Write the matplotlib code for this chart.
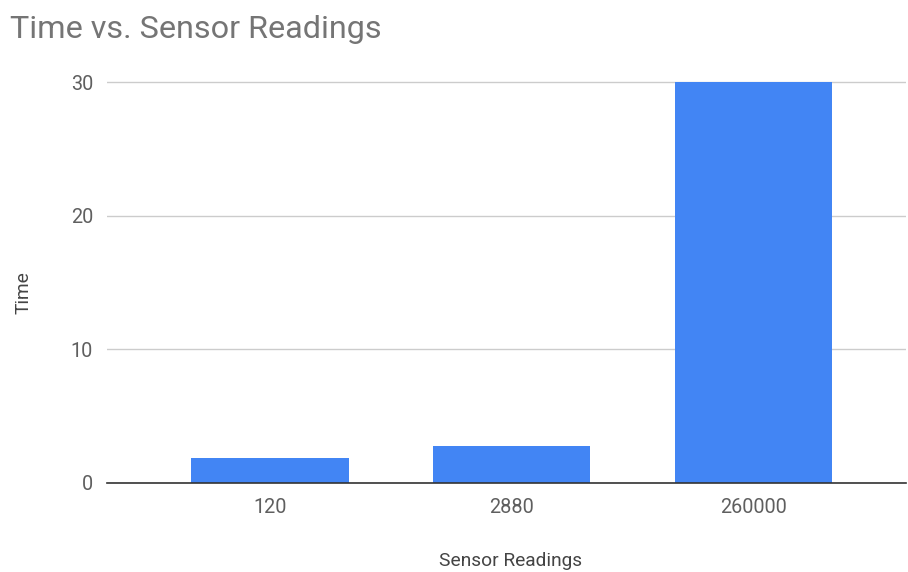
import matplotlib
matplotlib.use("Agg")
import matplotlib.pyplot as plt

categories = ["120", "2880", "260000"]
times = [1.9, 2.8, 30.0]
y_ticks = [0, 10, 20, 30]

BAR_COLOR = "#4285f4"

plt.rcParams["font.family"] = ["Roboto", "DejaVu Sans"]

fig = plt.figure(figsize=(9.08, 5.72), dpi=100)
W, H = 908, 572
left, right, bottom, top = 107, 906, 483, 78
ax = fig.add_axes([left / W, (H - bottom) / H, (right - left) / W, (bottom - top) / H])

x = list(range(len(categories)))
ax.bar(x, times, width=0.65, color=BAR_COLOR, zorder=3)

# pixel mapping: center of first bar at 270, spacing ~241.75 px
step = 241.75
ax.set_xlim(-(270 - left) / step, (right - 270) / step)
ax.set_ylim(0, 30 * (bottom - top) / (bottom - 82))

ax.set_yticks(y_ticks)
ax.set_xticks(x)
ax.set_xticklabels(categories)
ax.tick_params(axis="both", length=0, labelsize=14.3, colors="#5f5f5f")
ax.tick_params(axis="y", pad=10)
ax.tick_params(axis="x", pad=11)
ax.yaxis.grid(True, color="#cccccc", linewidth=1, zorder=0)

for side in ["top", "right", "left"]:
    ax.spines[side].set_visible(False)
ax.spines["bottom"].set_color("#333333")
ax.spines["bottom"].set_linewidth(1.2)
ax.spines["bottom"].set_zorder(4)

fig.text(10 / W, 1 - 30 / H, "Time vs. Sensor Readings", fontsize=23.3,
         color="#757575", ha="left", va="center")
fig.text(23 / W, 1 - 293 / H, "Time", fontsize=13.8, color="#444444",
         rotation=90, ha="center", va="center")
fig.text(511 / W, 1 - 561 / H, "Sensor Readings", fontsize=13.8,
         color="#444444", ha="center", va="center")

fig.savefig("out.png", dpi=100)
